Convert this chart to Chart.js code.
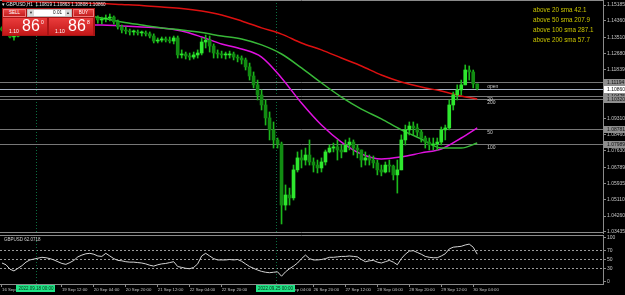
<!DOCTYPE html>
<html>
<head>
<meta charset="utf-8">
<script src="https://cdn.jsdelivr.net/npm/chart.js@4.4.1/dist/chart.umd.min.js"></script>
<style>
html, body { margin: 0; padding: 0; background: #000; }
body { width: 625px; height: 295px; position: relative; overflow: hidden; font-family: "Liberation Sans", Arial, sans-serif; }
#main { position: absolute; left: 0; top: 0; }
#sub { position: absolute; left: 0; top: 234px; }
.title { position: absolute; left: 2px; top: 2px; color: #e6e6e6; font-size: 4.6px; white-space: pre; line-height: 6px; }
.stats { position: absolute; left: 533px; top: 5px; color: #c9c400; font-size: 6.3px; line-height: 10px; white-space: pre; }
.sublabel { position: absolute; left: 4px; top: 237px; color: #cfcfcf; font-size: 4.5px; white-space: pre; }
#panel { position: absolute; left: 2px; top: 8px; width: 93px; height: 28px; background: #a81414; }
.btn { position: absolute; top: 1px; height: 8px; box-sizing: border-box; border: 1px solid #f07a7a; background: linear-gradient(#e64242, #c41e1e); color: #fff; font-size: 4.5px; line-height: 6px; text-align: center; }
.sell { left: 1px; width: 23px; }
.buy { left: 71px; width: 21px; }
.lot { position: absolute; left: 25px; top: 1px; width: 45px; height: 8px; background: #fff; box-sizing: border-box; border: 1px solid #bbb; }
.lot .ar { position: absolute; top: 0; width: 6px; height: 6px; background: #d8d8d8; color: #333; font-size: 4px; line-height: 6px; text-align: center; }
.lot .l { left: 0; }
.lot .r { right: 0; }
.lot .v { position: absolute; right: 9px; top: 0; font-size: 4.6px; line-height: 6px; color: #111; }
.quote { position: absolute; top: 10px; width: 44px; height: 17px; background: linear-gradient(#ea3c3c, #c21818); color: #fff; overflow: hidden; }
.q1 { left: 1px; }
.q2 { left: 47px; }
.quote .sm { position: absolute; left: 6px; top: 10px; font-size: 5px; }
.quote .big { position: absolute; left: 19px; top: -1px; font-size: 16px; line-height: 18px; }
.quote .sup { position: absolute; left: 38px; top: 1px; font-size: 5px; }
</style>
</head>
<body>
<canvas id="main" width="625" height="236"></canvas>
<canvas id="sub" width="625" height="61"></canvas>

<div class="title">▾ GBPUSD,H1  1.10819 1.10863 1.10808 1.10860</div>
<div id="panel">
  <div class="btn sell">SELL</div>
  <div class="lot"><span class="ar l">▼</span><span class="v">0.01</span><span class="ar r">▲</span></div>
  <div class="btn buy">BUY</div>
  <div class="quote q1"><span class="sm">1.10</span><span class="big">86</span><span class="sup">0</span></div>
  <div class="quote q2"><span class="sm">1.10</span><span class="big">86</span><span class="sup">8</span></div>
</div>
<div class="stats" id="stats"></div>
<div class="sublabel" id="sublabel"></div>

<script>
// 2-hour slots, 16 Sep 06:00 .. 30 Sep 06:00, plus empty room on the right
const slotCount = 151;

const highs = [
  1.1405,1.1394,1.1379,1.1369,1.1379,1.1394,1.1410,1.1420,1.1431,1.1441,
  1.1451,1.1451,1.1446,1.1441,1.1436,1.1431,1.1420,1.1415,1.1431,1.1446,
  1.1456,1.1462,1.1467,1.1462,1.1462,1.1456,1.1467,1.1472,1.1462,1.1441,
  1.1415,1.1405,1.1394,1.1389,1.1389,1.1384,1.1384,1.1379,1.1369,1.1348,
  1.1353,1.1353,1.1353,1.1358,1.1358,1.1286,1.1275,1.1270,1.1275,1.1286,
  1.1348,1.1363,1.1358,1.1317,1.1286,1.1280,1.1275,1.1280,1.1275,1.1260,
  1.1255,1.1244,1.1218,1.1172,1.1130,1.1079,1.1027,1.0965,1.0913,1.0830,
  1.0809,1.0587,1.0571,1.0690,1.0758,1.0768,1.0778,1.0820,1.0727,1.0716,
  1.0727,1.0768,1.0794,1.0804,1.0820,1.0794,1.0820,1.0830,1.0820,1.0794,
  1.0768,1.0758,1.0742,1.0737,1.0716,1.0690,1.0706,1.0716,1.0690,1.0716,
  1.0846,1.0897,1.0913,1.0913,1.0903,1.0872,1.0840,1.0830,1.0830,1.0830,
  1.0887,1.0897,1.1027,1.1068,1.1105,1.1130,1.1208,1.1203,1.1182,1.1110
];
const lows = [
  1.1384,1.1369,1.1348,1.1337,1.1353,1.1363,1.1384,1.1389,1.1405,1.1410,
  1.1420,1.1425,1.1420,1.1415,1.1405,1.1400,1.1389,1.1384,1.1400,1.1415,
  1.1431,1.1436,1.1441,1.1436,1.1425,1.1420,1.1431,1.1436,1.1420,1.1394,
  1.1374,1.1369,1.1363,1.1363,1.1363,1.1358,1.1358,1.1348,1.1322,1.1322,
  1.1327,1.1327,1.1322,1.1317,1.1244,1.1244,1.1239,1.1234,1.1239,1.1244,
  1.1260,1.1296,1.1275,1.1244,1.1244,1.1244,1.1239,1.1244,1.1234,1.1224,
  1.1213,1.1182,1.1130,1.1089,1.1027,1.0975,1.0897,1.0820,1.0778,1.0778,
  1.0385,1.0457,1.0483,1.0509,1.0654,1.0675,1.0690,1.0690,1.0654,1.0649,
  1.0654,1.0690,1.0753,1.0758,1.0716,1.0727,1.0768,1.0768,1.0742,1.0727,
  1.0680,1.0690,1.0690,1.0675,1.0639,1.0634,1.0649,1.0654,1.0613,1.0545,
  1.0665,1.0794,1.0846,1.0846,1.0840,1.0809,1.0778,1.0768,1.0768,1.0768,
  1.0794,1.0820,1.0872,1.0975,1.1027,1.1053,1.1105,1.1130,1.1089,1.1079
];
const closes = [
  1.1389,1.1374,1.1353,1.1358,1.1369,1.1389,1.1400,1.1410,1.1420,1.1431,
  1.1441,1.1436,1.1431,1.1425,1.1415,1.1410,1.1400,1.1394,1.1420,1.1441,
  1.1451,1.1456,1.1456,1.1451,1.1441,1.1446,1.1451,1.1456,1.1431,1.1405,
  1.1389,1.1384,1.1379,1.1379,1.1374,1.1374,1.1369,1.1358,1.1332,1.1337,
  1.1343,1.1337,1.1332,1.1348,1.1260,1.1265,1.1255,1.1249,1.1260,1.1270,
  1.1327,1.1337,1.1306,1.1270,1.1265,1.1260,1.1260,1.1265,1.1249,1.1244,
  1.1234,1.1198,1.1151,1.1105,1.1053,1.1001,1.0934,1.0872,1.0820,1.0799,
  1.0483,1.0535,1.0520,1.0665,1.0727,1.0716,1.0742,1.0706,1.0690,1.0675,
  1.0706,1.0758,1.0778,1.0784,1.0768,1.0758,1.0794,1.0809,1.0778,1.0768,
  1.0716,1.0727,1.0716,1.0701,1.0665,1.0654,1.0690,1.0685,1.0639,1.0665,
  1.0820,1.0872,1.0892,1.0882,1.0861,1.0830,1.0809,1.0794,1.0799,1.0809,
  1.0872,1.0882,1.1001,1.1053,1.1079,1.1105,1.1182,1.1172,1.1110,1.1086
];
const firstOpen = 1.1400;

// moving averages, read every 5th slot
const maIdx = [0,5,10,15,20,25,30,35,40,45,50,55,60,65,70,75,80,85,90,95,100,105,110,115,119];
const sma200 = [1.1539,1.1537,1.1534,1.1532,1.1529,1.1526,1.1521,1.1516,1.1508,1.1500,1.1487,1.1467,1.1436,1.1400,1.1368,1.1322,1.1286,1.1244,1.1203,1.1156,1.1120,1.1094,1.1073,1.1048,1.1032];
const sma100 = [1.1498,1.1493,1.1488,1.1480,1.1467,1.1451,1.1431,1.1415,1.1400,1.1389,1.1376,1.1358,1.1343,1.1312,1.1265,1.1193,1.1115,1.1042,1.0980,1.0929,1.0872,1.0825,1.0778,1.0778,1.0804];
const sma50 = [1.1400,1.1402,1.1405,1.1410,1.1415,1.1415,1.1410,1.1405,1.1400,1.1384,1.1353,1.1317,1.1291,1.1249,1.1141,1.1011,1.0897,1.0809,1.0747,1.0721,1.0732,1.0753,1.0773,1.0830,1.0882];

const rsiValues = [
  42,38,28,24,30,36,44,49,51,53,
  55,54,52,49,45,41,39,43,48,56,
  60,63,64,62,58,57,64,58,52,48,
  47,45,44,44,43,42,40,37,35,38,
  40,41,43,45,34,32,30,29,32,40,
  58,64,58,52,49,49,49,50,49,50,
  46,40,34,30,26,23,21,20,21,22,
  12,22,29,35,42,52,60,52,49,49,
  50,52,55,55,56,57,57,58,57,56,
  50,45,47,48,44,42,45,48,44,38,
  52,62,69,70,66,62,57,55,54,54,
  58,63,74,78,79,80,83,85,78,62.0718
];

const priceTicks = [1.15185,1.14360,1.13510,1.12680,1.11839,1.11015,1.10180,1.09310,1.08460,1.07630,1.06789,1.05935,1.05110,1.04260,1.03435];
const rsiTicks = [0,30,50,70,100];
const rsiLevels = [30,50,70];

const levelValues = [1.11194,1.10860,1.10475,1.10320,1.08781,1.07989];
const levelNames = ['','open','20','200','50','100'];

const tickIdx = [0,15,23,31,39,47,55,71,78,86,94,102,110,118];
const tickText = ['16 Sep 2022','19 Sep 12:00','20 Sep 04:00','20 Sep 20:00','21 Sep 12:00','22 Sep 04:00','22 Sep 20:00',
                  '26 Sep 04:00','26 Sep 20:00','27 Sep 12:00','28 Sep 04:00','28 Sep 20:00','29 Sep 12:00','30 Sep 04:00'];
const sepIdx = [9,69];
const sepText = ['2022.09.18 00:00','2022.09.25 00:00'];

const smaNames = ['20','50','100','200'];
const smaAbove = [42.1,207.9,287.1,57.7];

// build chart data
const timeLabels = new Array(slotCount).fill('');
tickIdx.forEach((i, k) => { timeLabels[i] = tickText[k]; });

const opens = closes.map((c, i) => i === 0 ? firstOpen : closes[i - 1]);
const wickData = closes.map((c, i) => [lows[i], highs[i]]);
const bodyData = closes.map((c, i) => [opens[i], c]);

function sparse(values) {
  const out = new Array(slotCount).fill(null);
  maIdx.forEach((i, k) => { out[i] = values[k]; });
  return out;
}

document.getElementById('stats').textContent =
  smaNames.map((n, k) => 'above ' + n + ' sma ' + smaAbove[k]).join('\n');
document.getElementById('sublabel').textContent = 'GBPUSD ' + rsiValues[rsiValues.length - 1].toFixed(4);

Chart.defaults.font.family = '"Liberation Sans", Arial, sans-serif';
Chart.defaults.color = '#c4c4c4';

const axisGray = '#8a8a8a';

function lineAt(ctx, x1, y1, x2, y2) {
  ctx.beginPath();
  ctx.moveTo(x1, y1);
  ctx.lineTo(x2, y2);
  ctx.stroke();
}

function noPad(scale) {
  scale.paddingTop = 0; scale.paddingBottom = 0;
  scale.paddingLeft = 0; scale.paddingRight = 0;
}

function drawSeparators(chart) {
  const {ctx, chartArea: a, scales: {x}} = chart;
  const half = (x.getPixelForValue(1) - x.getPixelForValue(0)) / 2;
  ctx.save();
  ctx.strokeStyle = '#0a6e40';
  ctx.lineWidth = 1;
  ctx.setLineDash([1, 2]);
  sepIdx.forEach(i => {
    const px = Math.round(x.getPixelForValue(i) - half) + 0.5;
    lineAt(ctx, px, a.top, px, a.bottom);
  });
  ctx.restore();
}

const mainDeco = {
  id: 'mainDeco',
  beforeDatasetsDraw(chart) {
    const {ctx, chartArea: a, scales: {y}} = chart;
    drawSeparators(chart);
    ctx.save();
    ctx.lineWidth = 1;
    levelValues.forEach((v, k) => {
      const py = Math.round(y.getPixelForValue(v)) + 0.5;
      ctx.strokeStyle = levelNames[k] === 'open' ? '#a7b1c2' : '#777777';
      lineAt(ctx, a.left, py, a.right, py);
    });
    ctx.strokeStyle = axisGray;
    lineAt(ctx, a.left, a.top + 0.5, a.right, a.top + 0.5);
    lineAt(ctx, a.left, a.bottom - 0.5, a.right, a.bottom - 0.5);
    ctx.restore();
  },
  afterDraw(chart) {
    const {ctx, chartArea: a, scales: {x, y}} = chart;
    const nameX = x.getPixelForValue(closes.length - 1) + 10;
    ctx.save();
    ctx.font = '5px "Liberation Sans", Arial, sans-serif';
    ctx.textBaseline = 'middle';
    levelValues.forEach((v, k) => {
      const py = Math.round(y.getPixelForValue(v));
      const name = levelNames[k];
      if (name) {
        ctx.fillStyle = '#c8c8c8';
        ctx.fillText(name, nameX, name === 'open' ? py - 2 : py + 4);
      }
      ctx.fillStyle = name === 'open' ? '#ffffff' : '#8e8e8e';
      ctx.fillRect(a.right + 1, py - 3, chart.width - a.right - 1, 7);
      ctx.fillStyle = '#111';
      ctx.fillText(v.toFixed(5), a.right + 4, py + 0.5);
    });
    ctx.restore();
  }
};

const subDeco = {
  id: 'subDeco',
  beforeDatasetsDraw(chart) {
    const {ctx, chartArea: a} = chart;
    drawSeparators(chart);
    ctx.save();
    ctx.strokeStyle = axisGray;
    ctx.lineWidth = 1;
    lineAt(ctx, a.left, a.top + 0.5, a.right, a.top + 0.5);
    ctx.restore();
  },
  afterDraw(chart) {
    const {ctx, chartArea: a, scales: {x}} = chart;
    const half = (x.getPixelForValue(1) - x.getPixelForValue(0)) / 2;
    ctx.save();
    ctx.font = '4.5px "Liberation Sans", Arial, sans-serif';
    ctx.textBaseline = 'middle';
    ctx.textAlign = 'center';
    sepIdx.forEach((i, k) => {
      const px = x.getPixelForValue(i) - half;
      const w = ctx.measureText(sepText[k]).width + 4;
      ctx.fillStyle = '#1fe486';
      ctx.fillRect(Math.round(px - w / 2), a.bottom + 1, Math.round(w), 7);
      ctx.fillStyle = '#0a2a14';
      ctx.fillText(sepText[k], px, a.bottom + 4.8);
    });
    ctx.restore();
  }
};

new Chart(document.getElementById('main'), {
  data: {
    labels: timeLabels,
    datasets: [
      {
        type: 'line', data: sparse(sma200), borderColor: '#dd1010', borderWidth: 1.5,
        pointRadius: 0, spanGaps: true, cubicInterpolationMode: 'monotone', order: 3
      },
      {
        type: 'line', data: sparse(sma100), borderColor: '#38b838', borderWidth: 1.5,
        pointRadius: 0, spanGaps: true, cubicInterpolationMode: 'monotone', order: 3
      },
      {
        type: 'line', data: sparse(sma50), borderColor: '#e010e0', borderWidth: 1.5,
        pointRadius: 0, spanGaps: true, cubicInterpolationMode: 'monotone', order: 3
      },
      {
        type: 'bar', data: wickData, grouped: false, barThickness: 1,
        backgroundColor: '#1cb81c', borderWidth: 0, order: 2
      },
      {
        type: 'bar', data: bodyData, grouped: false, barThickness: 3, minBarLength: 1,
        backgroundColor: ctx => (bodyData[ctx.dataIndex] && bodyData[ctx.dataIndex][1] >= bodyData[ctx.dataIndex][0]) ? '#2ee82e' : '#128c12',
        borderWidth: 0, order: 1
      }
    ]
  },
  options: {
    responsive: false,
    animation: false,
    events: [],
    layout: { padding: { top: 0, left: 0, right: 0, bottom: 3 } },
    plugins: { legend: { display: false }, tooltip: { enabled: false } },
    scales: {
      x: { type: 'category', display: false, offset: true },
      y: {
        position: 'right',
        min: 1.03383, max: 1.15444,
        afterBuildTicks: s => { s.ticks = priceTicks.map(v => ({ value: v })); },
        afterFit: s => { s.width = 22; noPad(s); },
        ticks: { font: { size: 5 }, color: '#c4c4c4', padding: 1, callback: v => v.toFixed(5) },
        grid: { drawOnChartArea: false, tickLength: 3, tickColor: axisGray, color: axisGray },
        border: { color: axisGray }
      }
    }
  },
  plugins: [mainDeco]
});

new Chart(document.getElementById('sub'), {
  type: 'line',
  data: {
    labels: timeLabels,
    datasets: [{
      data: rsiValues, borderColor: '#d4d4d4', borderWidth: 1, pointRadius: 0, tension: 0
    }]
  },
  options: {
    responsive: false,
    animation: false,
    events: [],
    layout: { padding: { top: 1, left: 0, right: 0, bottom: 0 } },
    plugins: { legend: { display: false }, tooltip: { enabled: false } },
    scales: {
      x: {
        type: 'category', offset: true,
        afterFit: s => { s.height = 11; noPad(s); },
        ticks: { autoSkip: false, maxRotation: 0, minRotation: 0, align: 'start', padding: 0, font: { size: 4.3 }, color: '#c4c4c4' },
        grid: {
          offset: false, drawOnChartArea: false, tickLength: 3, color: 'transparent',
          tickColor: ctx => timeLabels[ctx.index] ? axisGray : 'transparent'
        },
        border: { color: axisGray }
      },
      y: {
        position: 'right',
        min: -5.68, max: 105.68,
        afterBuildTicks: s => { s.ticks = rsiTicks.map(v => ({ value: v })); },
        afterFit: s => { s.width = 22; noPad(s); },
        ticks: { font: { size: 5 }, color: '#c4c4c4', padding: 1 },
        grid: {
          tickLength: 3, tickColor: axisGray,
          color: ctx => rsiLevels.includes(ctx.tick && ctx.tick.value) ? '#9a9a9a' : 'transparent'
        },
        border: { color: axisGray, dash: [2, 2] }
      }
    }
  },
  plugins: [subDeco]
});
</script>
</body>
</html>
